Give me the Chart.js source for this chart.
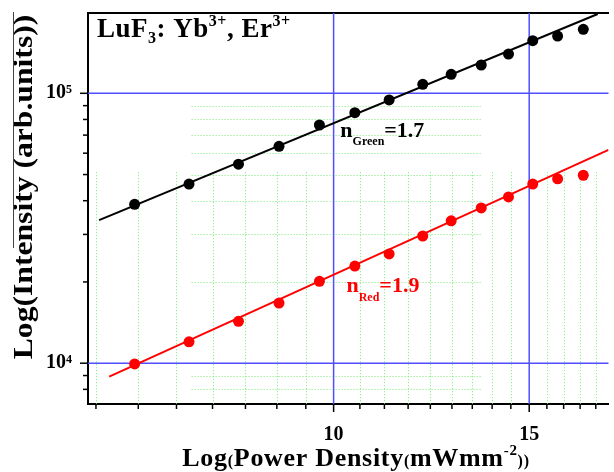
<!DOCTYPE html>
<html lang="en">
<head>
<meta charset="UTF-8">
<title>LuF3: Yb3+, Er3+ power dependence</title>
<script src="https://cdn.jsdelivr.net/npm/chart.js"></script>
<style>
    body { margin: 0; background: #fff; }
    canvas { display: block; }
</style>
</head>
<body>
<canvas id="grafico" width="614" height="472"></canvas>
<script>
const powerDensity = [6.62, 7.41, 8.21, 8.93, 9.71, 10.45, 11.22, 12.03, 12.76, 13.58, 14.37, 15.11, 15.91, 16.78];
const greenIntensity = [38800, 46100, 54600, 63600, 76300, 84800, 94500, 108000, 117600, 127300, 139800, 156600, 163000, 172600];
const redIntensity = [9940, 12000, 14300, 16700, 20100, 22900, 25400, 29600, 33700, 37600, 41300, 46100, 48200, 49700];

// fitted lines (end points)
const greenFitX = [6.15, 17.29];
const greenFitY = [33900, 196700];
const redFitX = [6.28, 17.68];
const redFitY = [8920, 61700];

// axes
const xTicks = [6.11, 6.67, 7.22, 7.78, 8.33, 8.89, 9.44, 10, 10.56, 11.11, 11.67, 12.22, 12.78, 13.33, 13.89, 14.44, 15, 15.56, 16.11, 16.67, 17.22];
const xMajor = [10, 15];
const yTicks = [8000, 9000, 10000, 20000, 30000, 40000, 50000, 60000, 70000, 80000, 90000, 100000];
const yMajor = [10000, 100000];
const yTickLabels = ['10⁴', '10⁵'];
const xRange = [6.01, 17.68];
const yRange = [7060, 198400];

// where the dotted minor grid shows up in the original
const minorVertTop = 51000;
const minorHorizFrom = 7.45;
const minorHorizTo = 13.62;

const serif = "'Liberation Serif', 'Times New Roman', serif";
const blueGrid = '#4f4fff';
const greenGrid = 'rgb(120,235,120)';

function pts(xs, ys) {
    return xs.map((x, i) => ({ x: x, y: ys[i] }));
}

function noPad(s) {
    s.paddingTop = 0;
    s.paddingBottom = 0;
    s.paddingLeft = 0;
    s.paddingRight = 0;
}

// text drawn as runs so sub/superscripts work: [text, size, dy]
function runsWidth(ctx, runs) {
    let w = 0;
    for (const r of runs) {
        ctx.font = 'bold ' + r[1] + 'px ' + serif;
        w += ctx.measureText(r[0]).width;
    }
    return w;
}
function drawRuns(ctx, runs, x, y) {
    for (const r of runs) {
        ctx.font = 'bold ' + r[1] + 'px ' + serif;
        ctx.fillText(r[0], x, y + r[2]);
        x += ctx.measureText(r[0]).width;
    }
}

function crisp(p) {
    return Math.round(p) + 0.5;
}

const extras = {
    id: 'extras',
    beforeDatasetsDraw(chart) {
        const { ctx, chartArea: a, scales: { x, y } } = chart;
        ctx.save();
        // dotted minor grid, only where the original has it
        ctx.strokeStyle = greenGrid;
        ctx.lineWidth = 1;
        ctx.setLineDash([1, 2]);
        const top = y.getPixelForValue(minorVertTop);
        xTicks.forEach(v => {
            if (xMajor.includes(v)) return;
            const px = crisp(x.getPixelForValue(v));
            ctx.beginPath();
            ctx.moveTo(px, top);
            ctx.lineTo(px, a.bottom);
            ctx.stroke();
        });
        const x0 = x.getPixelForValue(minorHorizFrom);
        const x1 = x.getPixelForValue(minorHorizTo);
        yTicks.forEach(v => {
            if (yMajor.includes(v)) return;
            const py = crisp(y.getPixelForValue(v));
            ctx.beginPath();
            ctx.moveTo(x0, py);
            ctx.lineTo(x1, py);
            ctx.stroke();
        });
        // solid major grid
        ctx.setLineDash([]);
        ctx.strokeStyle = blueGrid;
        ctx.lineWidth = 1.5;
        xMajor.forEach(v => {
            const px = x.getPixelForValue(v);
            ctx.beginPath();
            ctx.moveTo(px, a.top);
            ctx.lineTo(px, a.bottom);
            ctx.stroke();
        });
        yMajor.forEach(v => {
            const py = y.getPixelForValue(v);
            ctx.beginPath();
            ctx.moveTo(a.left, py);
            ctx.lineTo(a.right, py);
            ctx.stroke();
        });
        ctx.restore();
    },
    afterDraw(chart) {
        const { ctx, chartArea: a, scales: { x, y } } = chart;
        ctx.save();
        // tick marks, outside
        ctx.strokeStyle = '#000';
        ctx.lineWidth = 1.5;
        xTicks.forEach(v => {
            const px = x.getPixelForValue(v);
            const len = xMajor.includes(v) ? 8 : 5;
            ctx.beginPath();
            ctx.moveTo(px, a.bottom);
            ctx.lineTo(px, a.bottom + len);
            ctx.stroke();
        });
        yTicks.forEach(v => {
            const py = y.getPixelForValue(v);
            const len = yMajor.includes(v) ? 8 : 5;
            ctx.beginPath();
            ctx.moveTo(a.left - len, py);
            ctx.lineTo(a.left, py);
            ctx.stroke();
        });

        ctx.fillStyle = '#000';
        ctx.textAlign = 'left';
        ctx.textBaseline = 'alphabetic';
        ctx.letterSpacing = '0.5px';
        // sample label
        drawRuns(ctx, [['LuF', 27, 0], ['3', 16, 6], [': Yb', 27, 0], ['3+', 16, -11], [', Er', 27, 0], ['3+', 16, -11]], a.left + 9, a.top + 24);

        // slopes
        ctx.letterSpacing = '0px';
        drawRuns(ctx, [['n', 22, 0], ['Green', 12, 8], ['=1.7', 22, 0]], x.getPixelForValue(10.14), y.getPixelForValue(68880));
        ctx.fillStyle = '#ff0000';
        drawRuns(ctx, [['n', 22, 0], ['Red', 12, 9], ['=1.9', 22, 0]], x.getPixelForValue(10.27), y.getPixelForValue(18290));

        // axis titles
        ctx.fillStyle = '#000';
        ctx.letterSpacing = '0.7px';
        const xt = [['Log', 26, 0], ['(', 16, 0], ['Power Density', 26, 0], ['(', 16, 0], ['mWmm', 26, 0], ['-2', 15, -11], ['))', 16, 0]];
        drawRuns(ctx, xt, 356 - runsWidth(ctx, xt) / 2, 466);

        // y title, a bit stretched along its length like the original
        ctx.letterSpacing = '0px';
        ctx.translate(32, 187);
        ctx.rotate(-Math.PI / 2);
        ctx.scale(1.13, 1);
        ctx.textAlign = 'center';
        ctx.font = 'bold 28px ' + serif;
        ctx.fillText('Log(Intensity (arb.units))', 0, 0);
        ctx.restore();

        // thin stray rule at the far left of the original
        ctx.save();
        ctx.fillStyle = '#444';
        ctx.fillRect(13, 12, 1, 236);
        ctx.restore();
    }
};

new Chart(document.getElementById('grafico'), {
    type: 'scatter',
    data: {
        datasets: [
            { data: pts(powerDensity, greenIntensity), backgroundColor: '#000', pointRadius: 5.5, pointBorderWidth: 0 },
            { data: pts(powerDensity, redIntensity), backgroundColor: '#ff0000', pointRadius: 5.5, pointBorderWidth: 0 },
            { data: pts(greenFitX, greenFitY), showLine: true, borderColor: '#000', borderWidth: 2, pointRadius: 0 },
            { data: pts(redFitX, redFitY), showLine: true, borderColor: '#ff0000', borderWidth: 2, pointRadius: 0 }
        ]
    },
    options: {
        responsive: false,
        animation: false,
        layout: { padding: 0 },
        plugins: { legend: { display: false }, tooltip: { enabled: false } },
        scales: {
            x: {
                type: 'logarithmic',
                position: 'bottom',
                min: xRange[0],
                max: xRange[1],
                afterBuildTicks: s => { s.ticks = xTicks.map(v => ({ value: v })); },
                afterFit: s => { s.height = 68; noPad(s); },
                ticks: {
                    autoSkip: false,
                    maxRotation: 0,
                    padding: 19,
                    color: '#000',
                    font: { family: serif, size: 20, weight: 'bold' },
                    callback: v => xMajor.includes(v) ? String(v) : ''
                },
                grid: { drawTicks: false, drawOnChartArea: false },
                border: { display: true, color: '#000', width: 2 }
            },
            xTop: {
                type: 'linear',
                position: 'top',
                afterFit: s => { s.height = 13; noPad(s); },
                ticks: { display: false },
                grid: { drawOnChartArea: false, drawTicks: false },
                border: { display: true, color: '#000', width: 2 }
            },
            y: {
                type: 'logarithmic',
                min: yRange[0],
                max: yRange[1],
                afterBuildTicks: s => { s.ticks = yTicks.map(v => ({ value: v })); },
                afterFit: s => { s.width = 88; noPad(s); },
                ticks: {
                    autoSkip: false,
                    padding: 16,
                    color: '#000',
                    font: { family: serif, size: 20, weight: 'bold' },
                    callback: v => {
                        const i = yMajor.indexOf(v);
                        return i >= 0 ? yTickLabels[i] : '';
                    }
                },
                grid: { drawTicks: false, drawOnChartArea: false },
                border: { display: true, color: '#000', width: 2 }
            }
        }
    },
    plugins: [extras]
});
</script>
</body>
</html>
